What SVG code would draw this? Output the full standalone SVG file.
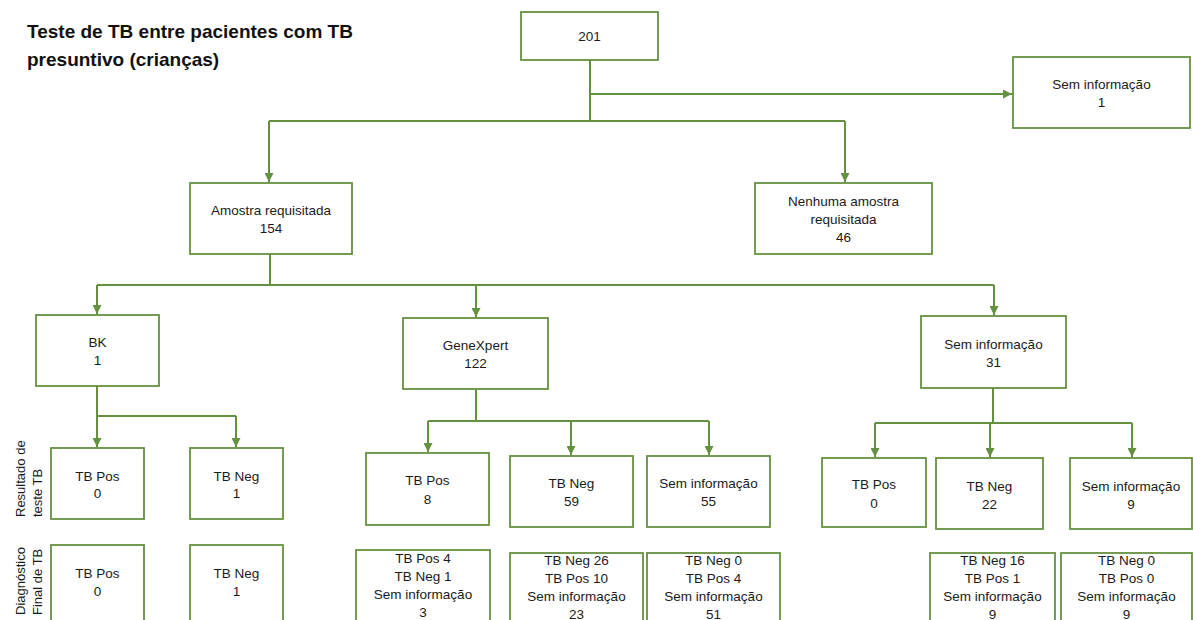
<svg xmlns="http://www.w3.org/2000/svg" width="1193" height="620" viewBox="0 0 1193 620">
<style>
.box{fill:#fff;stroke:#64913f;stroke-width:1.8}
.c{fill:none;stroke:#64913f;stroke-width:2}
.t{font-family:"Liberation Sans",Arial,sans-serif;font-size:13.5px;fill:#1a1a1a;text-anchor:middle}
.r{font-family:"Liberation Sans",Arial,sans-serif;font-size:13px;fill:#1a1a1a}
.title{font-family:"Liberation Sans",Arial,sans-serif;font-size:19px;font-weight:bold;fill:#111}
</style>
<defs>
<marker id="a" viewBox="0 0 10 10" refX="10" refY="5" markerWidth="9" markerHeight="9" markerUnits="userSpaceOnUse" orient="auto">
<path d="M0,0 L10,5 L0,10 z" fill="#64913f"/>
</marker>
</defs>
<rect width="1193" height="620" fill="#fff"/>
<text class="title" x="27" y="38">Teste de TB entre pacientes com TB</text>
<text class="title" x="27" y="66">presuntivo (crianças)</text>

<g id="labels">
<text class="r" transform="translate(25,517) rotate(-90)">Resultado de</text>
<text class="r" transform="translate(42,517) rotate(-90)">teste TB</text>
<text class="r" transform="translate(25,615) rotate(-90)">Diagnóstico</text>
<text class="r" transform="translate(42,615) rotate(-90)">Final de TB</text>
</g>

<g id="connectors">
<path class="c" d="M590,60 V121"/>
<path class="c" d="M590,94 H1012" marker-end="url(#a)"/>
<path class="c" d="M269,121 H845"/>
<path class="c" d="M269,121 V182" marker-end="url(#a)"/>
<path class="c" d="M845,121 V182" marker-end="url(#a)"/>
<path class="c" d="M270,254 V285"/>
<path class="c" d="M97,285 H994"/>
<path class="c" d="M97,285 V314" marker-end="url(#a)"/>
<path class="c" d="M476,285 V317" marker-end="url(#a)"/>
<path class="c" d="M994,285 V315" marker-end="url(#a)"/>
<path class="c" d="M97,386 V416 H236"/>
<path class="c" d="M97,416 V447" marker-end="url(#a)"/>
<path class="c" d="M236,416 V447" marker-end="url(#a)"/>
<path class="c" d="M476,389 V421"/>
<path class="c" d="M428,421 H709"/>
<path class="c" d="M428,421 V452" marker-end="url(#a)"/>
<path class="c" d="M571,421 V455" marker-end="url(#a)"/>
<path class="c" d="M709,421 V455" marker-end="url(#a)"/>
<path class="c" d="M993,388 V423"/>
<path class="c" d="M875,423 H1132"/>
<path class="c" d="M875,423 V457" marker-end="url(#a)"/>
<path class="c" d="M990,423 V457" marker-end="url(#a)"/>
<path class="c" d="M1132,423 V457" marker-end="url(#a)"/>
</g>

<g id="n201"><rect class="box" x="521" y="12" width="137" height="48"/><text class="t" x="589.5" y="41">201</text></g>
<g id="semInfoTop"><rect class="box" x="1013" y="57" width="177" height="71"/><text class="t" x="1101.5" y="89">Sem informação</text><text class="t" x="1101.5" y="107">1</text></g>
<g id="amostra"><rect class="box" x="190" y="183" width="162" height="71"/><text class="t" x="271" y="215">Amostra requisitada</text><text class="t" x="271" y="233">154</text></g>
<g id="nenhuma"><rect class="box" x="755" y="183" width="177" height="71"/><text class="t" x="843.5" y="206">Nenhuma amostra</text><text class="t" x="843.5" y="224">requisitada</text><text class="t" x="843.5" y="242">46</text></g>

<g id="bk"><rect class="box" x="36" y="315" width="123" height="71"/><text class="t" x="97.5" y="347">BK</text><text class="t" x="97.5" y="365">1</text></g>
<g id="genexpert"><rect class="box" x="403" y="318" width="145" height="71"/><text class="t" x="475.5" y="350">GeneXpert</text><text class="t" x="475.5" y="368">122</text></g>
<g id="semInfo31"><rect class="box" x="921" y="316" width="145" height="72"/><text class="t" x="993.5" y="349">Sem informação</text><text class="t" x="993.5" y="367">31</text></g>

<g id="bkPos"><rect class="box" x="51" y="448" width="93" height="71"/><text class="t" x="97.5" y="481">TB Pos</text><text class="t" x="97.5" y="498">0</text></g>
<g id="bkNeg"><rect class="box" x="190" y="448" width="93" height="71"/><text class="t" x="236.5" y="481">TB Neg</text><text class="t" x="236.5" y="498">1</text></g>
<g id="bkPosF"><rect class="box" x="51" y="545" width="93" height="80"/><text class="t" x="97.5" y="578">TB Pos</text><text class="t" x="97.5" y="596">0</text></g>
<g id="bkNegF"><rect class="box" x="190" y="545" width="93" height="80"/><text class="t" x="236.5" y="578">TB Neg</text><text class="t" x="236.5" y="596">1</text></g>

<g id="gxPos"><rect class="box" x="366" y="453" width="123" height="72"/><text class="t" x="427.5" y="485">TB Pos</text><text class="t" x="427.5" y="504">8</text></g>
<g id="gxNeg"><rect class="box" x="510" y="456" width="123" height="71"/><text class="t" x="571.5" y="488">TB Neg</text><text class="t" x="571.5" y="506">59</text></g>
<g id="gxSem"><rect class="box" x="647" y="456" width="123" height="71"/><text class="t" x="708.5" y="488">Sem informação</text><text class="t" x="708.5" y="506">55</text></g>
<g id="gxPosF"><rect class="box" x="356" y="550" width="134" height="80"/><text class="t" x="423" y="563">TB Pos 4</text><text class="t" x="423" y="581">TB Neg 1</text><text class="t" x="423" y="599">Sem informação</text><text class="t" x="423" y="617">3</text></g>
<g id="gxNegF"><rect class="box" x="510" y="553" width="133" height="80"/><text class="t" x="576.5" y="565">TB Neg 26</text><text class="t" x="576.5" y="583">TB Pos 10</text><text class="t" x="576.5" y="601">Sem informação</text><text class="t" x="576.5" y="619">23</text></g>
<g id="gxSemF"><rect class="box" x="647" y="553" width="133" height="80"/><text class="t" x="713.5" y="565">TB Neg 0</text><text class="t" x="713.5" y="583">TB Pos 4</text><text class="t" x="713.5" y="601">Sem informação</text><text class="t" x="713.5" y="619">51</text></g>

<g id="siPos"><rect class="box" x="822" y="458" width="104" height="69"/><text class="t" x="874" y="489">TB Pos</text><text class="t" x="874" y="508">0</text></g>
<g id="siNeg"><rect class="box" x="936" y="458" width="107" height="71"/><text class="t" x="989.5" y="491">TB Neg</text><text class="t" x="989.5" y="509">22</text></g>
<g id="siSem"><rect class="box" x="1070" y="458" width="122" height="71"/><text class="t" x="1131" y="491">Sem informação</text><text class="t" x="1131" y="509">9</text></g>
<g id="siNegF"><rect class="box" x="930" y="553" width="125" height="80"/><text class="t" x="992.5" y="565">TB Neg 16</text><text class="t" x="992.5" y="583">TB Pos 1</text><text class="t" x="992.5" y="601">Sem informação</text><text class="t" x="992.5" y="619">9</text></g>
<g id="siSemF"><rect class="box" x="1061" y="553" width="131" height="80"/><text class="t" x="1126.5" y="565">TB Neg 0</text><text class="t" x="1126.5" y="583">TB Pos 0</text><text class="t" x="1126.5" y="601">Sem informação</text><text class="t" x="1126.5" y="619">9</text></g>
</svg>
